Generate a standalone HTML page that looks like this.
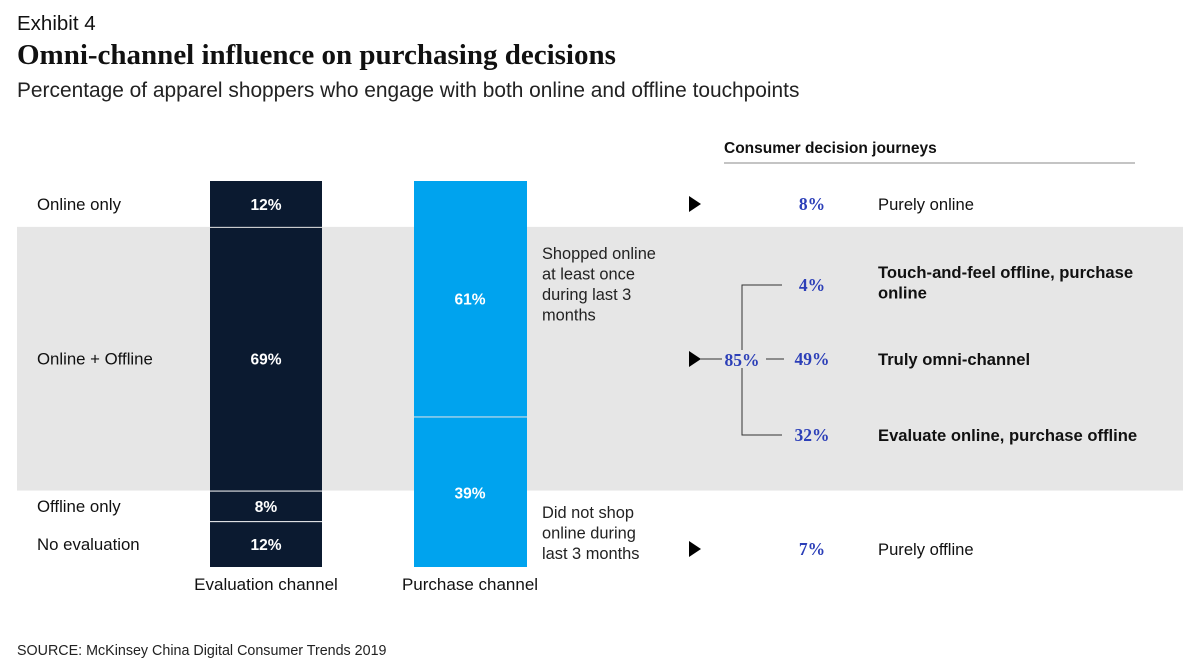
<!DOCTYPE html>
<html><head><meta charset="utf-8"><style>
body{margin:0;width:1200px;height:667px;background:#fff;overflow:hidden;font-family:"Liberation Sans",sans-serif;}
svg{position:absolute;left:0;top:0}
.t{font-family:"Liberation Sans",sans-serif}
.s{font-family:"Liberation Serif",serif}
</style></head><body>
<svg width="1200" height="667">
<text x="17" y="30" font-size="20.5" fill="#111" class="t">Exhibit 4</text>
<text x="17" y="64" font-size="29" font-weight="bold" fill="#111" class="s">Omni-channel influence on purchasing decisions</text>
<text x="17" y="97" font-size="20.9" fill="#222" class="t">Percentage of apparel shoppers who engage with both online and offline touchpoints</text>
<g id="band"></g>
<g id="bars"></g>
<text x="724" y="153" font-size="15.5" font-weight="bold" fill="#111" class="t">Consumer decision journeys</text>
<line x1="724" y1="163" x2="1135" y2="163" stroke="#888" stroke-width="1"/>
<g id="journey"></g>
<text x="17" y="655" font-size="14.3" fill="#222" class="t">SOURCE: McKinsey China Digital Consumer Trends 2019</text>
</svg>
<script>
const evalCategories=["Online only","Online + Offline","Offline only","No evaluation"];
const evalValues=[12,69,8,12];
const purchaseCategories=["Shopped online","Did not shop online"];
const purchaseValues=[61,39];
const journeyLabels=["Purely online","Touch-and-feel offline, purchase online","Truly omni-channel","Evaluate online, purchase offline","Purely offline"];
const journeyValues=[8,4,49,32,7];
const omniTotal=[85];

const NS="http://www.w3.org/2000/svg";
function el(tag,attrs,parent,text){const e=document.createElementNS(NS,tag);for(const k in attrs)e.setAttribute(k,attrs[k]);if(text!==undefined)e.textContent=text;parent.appendChild(e);return e;}
const top0=181,bottom0=567,H=bottom0-top0;
function stackScale(vals){const sum=vals.reduce((a,b)=>a+b,0);let acc=0;return vals.map(v=>{const y0=top0+acc/sum*H;acc+=v;const y1=top0+acc/sum*H;return [y0,y1];});}
const band=document.getElementById('band'),bars=document.getElementById('bars'),jg=document.getElementById('journey');
const es=stackScale(evalValues);
const bandEl=el('rect',{x:17,y:es[1][0],width:1166,height:es[1][1]-es[1][0],fill:'#e6e6e6'},band);


es.forEach((s,i)=>{
 const r=el('rect',{x:210,y:s[0]+(i?1:0),width:112,height:s[1]-s[0]-(i?1:0),fill:'#0b1a30'},bars);
 
 
 const t=el('text',{x:266,y:(s[0]+s[1])/2+6,'text-anchor':'middle','font-size':15.5,'font-weight':'bold',fill:'#fff',class:'t'},bars,evalValues[i]+'%');
 
 
 const c=el('text',{x:37,y:(s[0]+s[1])/2+6,'font-size':16.8,fill:'#111',class:'t'},bars,evalCategories[i]);
 
 
});
const ps=stackScale(purchaseValues);
ps.forEach((s,i)=>{
 const r=el('rect',{x:414,y:s[0]+(i?1:0),width:113,height:s[1]-s[0]-(i?1:0),fill:'#00a3ee'},bars);
 
 
 const ty=i==0?(s[0]+s[1])/2+6:s[0]+82;
 const t=el('text',{x:470,y:ty,'text-anchor':'middle','font-size':15.5,'font-weight':'bold',fill:'#fff',class:'t'},bars,purchaseValues[i]+'%');
 
 
});
[["Shopped online","at least once","during last 3","months",259],["Did not shop","online during","last 3 months",null,518]].forEach(a=>{
 const lines=a.slice(0,4).filter(x=>x);lines.forEach((l,j)=>{const t=el('text',{x:542,y:a[4]+j*20.5,'font-size':16.4,fill:'#222',class:'t'},bars,l);
 
 });
});
el('text',{x:266,y:590,'text-anchor':'middle','font-size':17,fill:'#111',class:'t',},bars,'Evaluation channel');
el('text',{x:470,y:590,'text-anchor':'middle','font-size':17,fill:'#111',class:'t',},bars,'Purchase channel');
const jy=[204,285,359,435,549];
function arrow(x,y){const p=el('polygon',{points:`${x},${y-8} ${x+12},${y} ${x},${y+8}`,fill:'#000'},jg);}
arrow(689,204);arrow(689,359);arrow(689,549);
el('line',{x1:700,y1:359,x2:722,y2:359,stroke:'#333'},jg);
el('line',{x1:766,y1:359,x2:784,y2:359,stroke:'#333'},jg);
el('polyline',{points:'782,285 742,285 742,350',fill:'none',stroke:'#333'},jg);
el('polyline',{points:'742,368 742,435 782,435',fill:'none',stroke:'#333'},jg);
const tt=el('text',{x:742,y:366,'text-anchor':'middle','font-size':17.5,'font-weight':'bold',fill:'#2c3fb8',class:'s'},jg,omniTotal[0]+'%');


journeyValues.forEach((v,i)=>{
 const t=el('text',{x:812,y:jy[i]+6,'text-anchor':'middle','font-size':17.5,'font-weight':'bold',fill:'#2c3fb8',class:'s'},jg,v+'%');
 
 
 const bold=(i>=1&&i<=3);
 let lines=[journeyLabels[i]];
 if(i==1)lines=["Touch-and-feel offline, purchase","online"];
 const y0=i==1?jy[i]-7:jy[i]+6;
 lines.forEach((l,j)=>{const tl=el('text',{x:878,y:y0+j*20.5,'font-size':16.6,'font-weight':bold?'bold':'normal',fill:'#111',class:'t'},jg,l);
 
 });
});
</script>
</body></html>
